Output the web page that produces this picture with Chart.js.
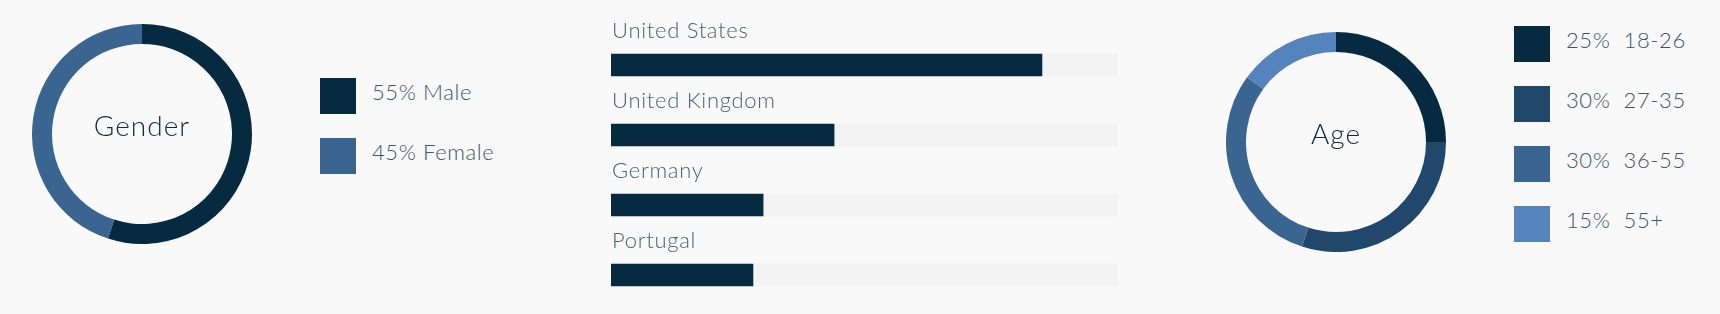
<!DOCTYPE html>
<html>
<head>
<meta charset="utf-8">
<script src="https://cdn.jsdelivr.net/npm/chart.js@4"></script>
<style>
  html, body { margin: 0; padding: 0; background: #f9f9f9; }
  body { width: 1720px; height: 314px; position: relative; overflow: hidden; font-family: Lato, sans-serif; }
  canvas { position: absolute; }
  .legend { position: absolute; margin: 0; padding: 0; list-style: none; }
  .legend li { position: relative; height: 36px; white-space: pre; color: #3e5669; font-size: 22px; font-weight: 300; line-height: 27px; padding-left: 52px; letter-spacing: 0.6px; }
  .legend li span { position: absolute; left: 0; top: 0; width: 36px; height: 36px; }
  #genderLegend { left: 320px; top: 78px; }
  #genderLegend li { margin-bottom: 24px; }
  #ageLegend { left: 1514px; top: 26px; }
  #ageLegend li { margin-bottom: 24px; }
</style>
</head>
<body>
<canvas id="genderChart" width="220" height="220" style="left:32px;top:24px"></canvas>
<ul class="legend" id="genderLegend"></ul>
<canvas id="countryChart" width="507" height="314" style="left:611px;top:0"></canvas>
<canvas id="ageChart" width="220" height="220" style="left:1226px;top:32px"></canvas>
<ul class="legend" id="ageLegend"></ul>
<script>
'use strict';

// gender
var genderLabels = ['Male', 'Female'];
var genderValues = [55, 45];
var genderColors = ['#062a40', '#3b6591'];

// countries
var countryLabels = ['United States', 'United Kingdom', 'Germany', 'Portugal'];
var countryValues = [85, 44, 30, 28];
var countryMax = [100, 100, 100, 100];

// age
var ageLabels = ['18-26', '27-35', '36-55', '55+'];
var ageValues = [25, 30, 30, 15];
var ageColors = ['#062a40', '#21476a', '#3b6591', '#5583bd'];

// text in the middle of a doughnut
var centerText = {
  id: 'centerText',
  afterDraw: function(chart, args, opts) {
    var ctx = chart.ctx;
    var area = chart.chartArea;
    ctx.save();
    ctx.font = '300 28px Lato, sans-serif';
    ctx.letterSpacing = '1px';
    ctx.fillStyle = '#0d2b40';
    ctx.textAlign = 'center';
    ctx.textBaseline = 'middle';
    ctx.fillText(opts.text, (area.left + area.right) / 2, (area.top + area.bottom) / 2 - 7);
    ctx.restore();
  }
};

function doughnut(id, labels, values, colors, title) {
  return new Chart(document.getElementById(id), {
    type: 'doughnut',
    data: {
      labels: labels,
      datasets: [{
        data: values,
        backgroundColor: colors,
        borderWidth: 0,
        hoverOffset: 0
      }]
    },
    options: {
      responsive: false,
      animation: false,
      cutout: 90,
      layout: { padding: 0 },
      plugins: {
        legend: { display: false },
        tooltip: { enabled: false },
        centerText: { text: title }
      }
    },
    plugins: [centerText]
  });
}

function buildLegend(id, labels, values, colors, sep) {
  var ul = document.getElementById(id);
  labels.forEach(function(l, i) {
    var li = document.createElement('li');
    var box = document.createElement('span');
    box.style.background = colors[i];
    li.appendChild(box);
    li.appendChild(document.createTextNode(values[i] + '%' + sep + l));
    ul.appendChild(li);
  });
}

doughnut('genderChart', genderLabels, genderValues, genderColors, 'Gender');
buildLegend('genderLegend', genderLabels, genderValues, genderColors, ' ');

doughnut('ageChart', ageLabels, ageValues, ageColors, 'Age');
buildLegend('ageLegend', ageLabels, ageValues, ageColors, '  ');

// labels above each bar
var barLabels = {
  id: 'barLabels',
  afterDatasetsDraw: function(chart) {
    var ctx = chart.ctx;
    var y = chart.scales.y;
    ctx.save();
    ctx.font = '300 22px Lato, sans-serif';
    ctx.letterSpacing = '0.7px';
    ctx.fillStyle = '#4a6275';
    ctx.textAlign = 'left';
    ctx.textBaseline = 'alphabetic';
    chart.data.labels.forEach(function(l, i) {
      ctx.fillText(l, chart.chartArea.left + 1, y.getPixelForValue(i) - 11 - 16);
    });
    ctx.restore();
  }
};

new Chart(document.getElementById('countryChart'), {
  type: 'bar',
  data: {
    labels: countryLabels,
    datasets: [
      {
        data: countryValues,
        backgroundColor: '#062a40',
        barThickness: 22,
        grouped: false
      },
      {
        data: countryMax,
        backgroundColor: '#f3f3f3',
        barThickness: 22,
        grouped: false
      }
    ]
  },
  options: {
    indexAxis: 'y',
    responsive: false,
    animation: false,
    layout: { padding: { top: 30, bottom: 4, left: 0, right: 0 } },
    scales: {
      x: { display: false, min: 0, max: 100 },
      y: { display: false }
    },
    plugins: {
      legend: { display: false },
      tooltip: { enabled: false }
    }
  },
  plugins: [barLabels]
});
</script>
</body>
</html>
